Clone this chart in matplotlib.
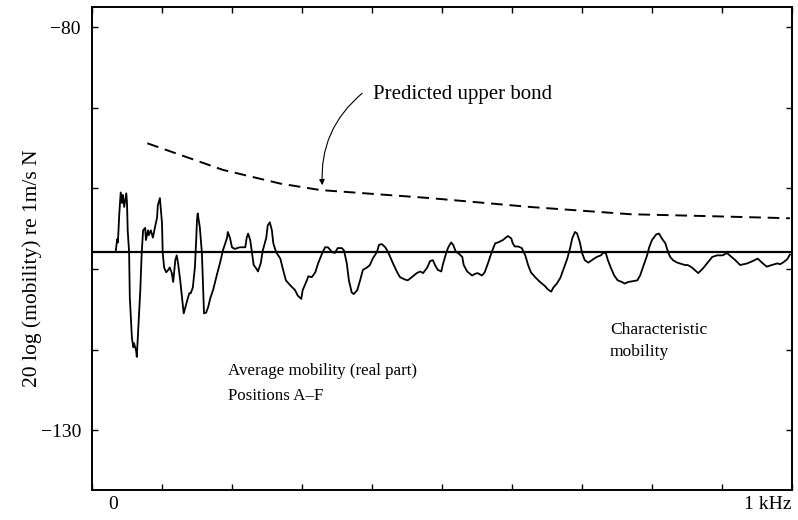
import matplotlib
matplotlib.use("Agg")
import matplotlib.pyplot as plt

plt.rcParams['font.family'] = ['Liberation Serif', 'DejaVu Serif']

# Average mobility (real part), positions A-F
freq_hz = [34, 36, 37, 39, 41, 43, 44, 46, 49, 50, 51, 53, 54, 57, 59, 60, 63, 64, 66, 69,
           71, 73, 76, 77, 80, 81, 84, 87, 90, 93, 94, 97, 100, 101, 103, 106, 109, 111, 114, 116,
           119, 121, 123, 126, 129, 131, 136, 139, 141, 144, 147, 149, 150, 151, 154, 157, 159, 160, 163, 166,
           169, 173, 179, 183, 187, 193, 194, 197, 200, 204, 211, 219, 221, 223, 226, 229, 231, 236, 237, 241,
           244, 249, 251, 254, 257, 259, 263, 269, 273, 277, 283, 290, 294, 299, 301, 307, 309, 314, 319, 323,
           329, 333, 337, 343, 347, 351, 357, 360, 364, 367, 371, 374, 379, 383, 387, 393, 397, 401, 407, 410,
           414, 419, 423, 426, 430, 436, 440, 447, 451, 457, 464, 469, 473, 479, 483, 487, 490, 494, 499, 501,
           506, 509, 513, 516, 520, 523, 529, 531, 536, 543, 547, 551, 557, 561, 566, 571, 576, 580, 587, 594,
           599, 601, 604, 609, 614, 619, 623, 627, 633, 640, 647, 651, 656, 659, 664, 669, 674, 679, 683, 686,
           690, 693, 697, 700, 704, 709, 714, 721, 727, 730, 734, 737, 741, 746, 751, 757, 761, 766, 773, 779,
           783, 787, 793, 796, 800, 806, 810, 814, 819, 823, 826, 830, 836, 843, 847, 851, 857, 866, 873, 886,
           893, 901, 907, 911, 919, 926, 936, 944, 951, 957, 964, 971, 979, 983, 987, 993, 997]
mobility_db = [-107.7, -106.3, -106.7, -103.1, -100.5, -101.8, -100.8, -102.3, -100.6, -101.8, -105.2, -107.9, -113.5, -118.5, -119.7, -119.2, -120.1, -120.9, -117.6, -112.6,
               -108.0, -105.2, -104.9, -106.4, -105.2, -105.8, -105.2, -106.1, -104.8, -103.6, -102.1, -101.2, -104.3, -107.9, -109.8, -110.4, -110.1, -109.8, -110.5, -111.6,
               -108.9, -108.3, -109.3, -111.4, -113.9, -115.5, -113.9, -113.0, -113.0, -112.3, -109.8, -106.1, -103.9, -103.1, -104.8, -108.0, -113.0, -115.5, -115.4, -114.7,
               -113.6, -112.6, -110.5, -109.2, -107.7, -106.1, -105.4, -106.1, -107.3, -107.5, -107.3, -107.3, -106.1, -105.6, -106.4, -108.3, -109.5, -110.1, -110.3, -109.3,
               -107.7, -106.1, -104.6, -104.2, -105.2, -106.8, -107.9, -108.7, -110.1, -111.4, -112.0, -112.6, -113.3, -113.7, -112.6, -111.4, -110.9, -111.0, -110.4, -109.3,
               -108.0, -107.3, -107.3, -107.9, -108.0, -107.4, -107.4, -107.7, -109.3, -111.4, -112.9, -113.1, -112.6, -111.4, -110.1, -109.8, -109.5, -108.7, -107.9, -107.0,
               -106.9, -107.3, -107.9, -108.5, -109.3, -110.4, -111.0, -111.3, -111.4, -111.0, -110.5, -110.3, -110.5, -109.8, -109.0, -108.9, -109.5, -110.1, -110.3, -109.5,
               -108.0, -107.3, -106.7, -107.0, -107.9, -108.0, -108.5, -109.5, -110.3, -110.8, -110.6, -110.5, -110.8, -110.4, -109.2, -107.9, -106.8, -106.7, -106.4, -105.9,
               -106.2, -106.8, -107.2, -107.2, -107.4, -108.3, -109.5, -110.4, -111.0, -111.6, -112.1, -112.5, -112.8, -112.3, -111.8, -111.1, -109.9, -108.7, -107.4, -106.2,
               -105.4, -105.6, -106.7, -108.0, -108.9, -109.2, -108.9, -108.5, -108.3, -108.0, -108.0, -108.9, -109.8, -110.8, -111.4, -111.6, -111.8, -111.6, -111.5, -111.4,
               -110.8, -109.8, -108.3, -107.3, -106.4, -105.7, -105.6, -106.2, -106.8, -107.9, -108.5, -108.9, -109.2, -109.4, -109.5, -109.5, -109.8, -110.5, -109.9, -108.5,
               -108.3, -108.3, -108.0, -108.3, -108.9, -109.5, -109.3, -109.0, -108.7, -109.2, -109.7, -109.5, -109.3, -109.4, -109.2, -108.8, -108.2]

# Predicted upper bound
bound_hz = [79, 187, 269, 326, 483, 626, 769, 864, 997]
bound_db = [-94.4, -97.7, -99.4, -100.2, -101.2, -102.3, -103.2, -103.4, -103.7]

# Characteristic mobility
char_hz = [0, 1000]
char_db = [-107.9, -107.9]

y_ticks = [-80, -90, -100, -110, -120, -130]
y_ticklabels = ['\u221280', '', '', '', '', '\u2212130']
x_ticks = [0, 100, 200, 300, 400, 500, 600, 700, 800, 900, 1000]

fig = plt.figure(figsize=(7.98, 5.20), dpi=100)
ax = fig.add_axes([92/798, 1 - 490/520, 700/798, 483/520])

ax.plot(char_hz, char_db, color='black', lw=1.6)
ax.plot(freq_hz, mobility_db, color='black', lw=1.3)
ax.plot(bound_hz, bound_db, color='black', lw=1.4, dashes=(6, 3.5))

ax.set_xlim(0, 1000)
ax.set_ylim(-137.4, -77.5)
ax.set_yticks(y_ticks)
ax.set_yticklabels(y_ticklabels, fontsize=14)
ax.set_xticks(x_ticks)
ax.set_xticklabels([''] * len(x_ticks))
ax.tick_params(direction='in', length=4, width=1, top=True, right=True, pad=8)
for s in ax.spines.values():
    s.set_linewidth(1.4)

ax.set_ylabel('20 log (mobility) re 1m/s N', fontsize=15.5)
ax.yaxis.set_label_coords(-0.071, 0.46)

ax.text(0.03, -0.03, '0', transform=ax.transAxes, ha='center', va='center', fontsize=14)
ax.text(1.0, -0.03, '1 kHz', transform=ax.transAxes, ha='right', va='center', fontsize=14)

ax.text(401, -88.4, 'Predicted upper bond', fontsize=15, ha='left', va='center')
ax.annotate('', xy=(329, -99.6), xytext=(386, -88.2),
            arrowprops=dict(arrowstyle='-|>', color='black', lw=0.8,
                            connectionstyle='arc3,rad=0.25', shrinkA=0, shrinkB=0,
                            mutation_scale=8))
ax.text(194, -122.6, 'Average mobility (real part)', fontsize=12.2, ha='left', va='center')
ax.text(194, -125.8, 'Positions A\u2013F', fontsize=12.2, ha='left', va='center')
ax.text(740, -117.6, 'Characteristic', fontsize=12.6, ha='left', va='center')
ax.text(740, -120.3, 'mobility', fontsize=12.6, ha='left', va='center')

fig.savefig('out.png', dpi=100)
